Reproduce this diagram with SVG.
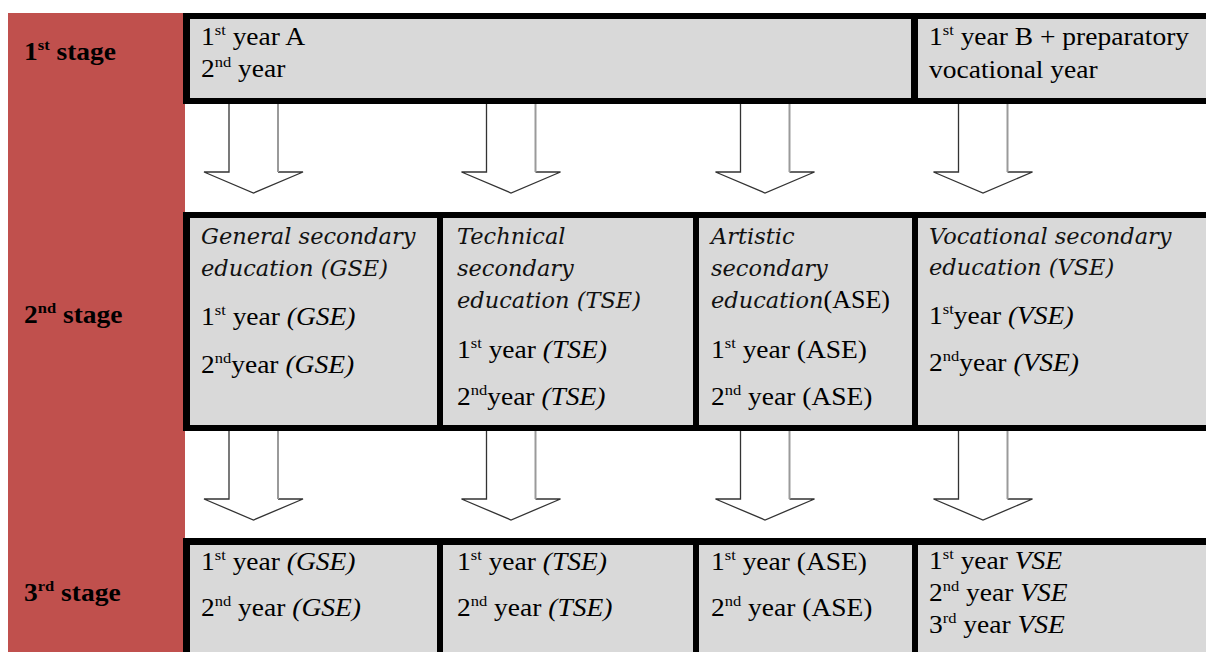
<svg xmlns="http://www.w3.org/2000/svg" width="1206" height="652" viewBox="0 0 1206 652">
<style>
.t{font-family:"Liberation Serif","Times New Roman",serif;font-size:25px;fill:#000}
.b{font-weight:bold}
.i{font-style:italic}
.h{font-family:"DejaVu Serif",serif;font-style:italic;font-size:22.5px;fill:#111}
.cell{fill:#d9d9d9}
.frame{fill:#000}
.ahead{fill:#fff;stroke:none}
.aline{fill:none;stroke:#333;stroke-width:1.3}
.ashade{fill:none;stroke:#9a9a9a;stroke-width:2}
</style>
<rect width="1206" height="652" fill="#fff"/>
<g id="stage-column">
<rect x="8" y="13" width="177" height="639" fill="#c0504d"/>
</g>
<g id="stage1"><text class="t b" transform="translate(24,60) scale(1.1,1)">1<tspan font-size="15" dy="-10">st</tspan><tspan dy="10"> stage</tspan></text></g>
<g id="stage2"><text class="t b" transform="translate(24,323) scale(1.1,1)">2<tspan font-size="15" dy="-10">nd</tspan><tspan dy="10"> stage</tspan></text></g>
<g id="stage3"><text class="t b" transform="translate(24,601) scale(1.1,1)">3<tspan font-size="15" dy="-10">rd</tspan><tspan dy="10"> stage</tspan></text></g>

<g id="frames">
<rect class="frame" x="183" y="13" width="1023" height="91"/>
<rect class="frame" x="183" y="212" width="1023" height="219"/>
<rect class="frame" x="183" y="538" width="1023" height="114"/>
</g>

<g id="row1-A">
<rect class="cell" x="190" y="19" width="721" height="79"/>
<text class="t" transform="translate(201,45) scale(1.1,1)">1<tspan font-size="15" dy="-10">st</tspan><tspan dy="10"> year A</tspan></text>
<text class="t" transform="translate(201,77) scale(1.1,1)">2<tspan font-size="15" dy="-10">nd</tspan><tspan dy="10"> year</tspan></text>
</g>
<g id="row1-B">
<rect class="cell" x="918" y="19" width="288" height="79"/>
<text class="t" transform="translate(929,45) scale(1.1,1)">1<tspan font-size="15" dy="-10">st</tspan><tspan dy="10"> year B + preparatory</tspan></text>
<text class="t" transform="translate(929,78) scale(1.1,1)">vocational year</text>
</g>

<g id="gse2">
<rect class="cell" x="190" y="218" width="247" height="207"/>
<text class="h" x="201" y="244">General secondary</text>
<text class="h" x="201" y="276">education (GSE)</text>
<text class="t" transform="translate(201,325) scale(1.1,1)">1<tspan font-size="15" dy="-10">st</tspan><tspan dy="10"> year </tspan><tspan class="i">(GSE)</tspan></text>
<text class="t" transform="translate(201,373) scale(1.1,1)">2<tspan font-size="15" dy="-10">nd</tspan><tspan dy="10">year </tspan><tspan class="i">(GSE)</tspan></text>
</g>
<g id="tse2">
<rect class="cell" x="443" y="218" width="250" height="207"/>
<text class="h" x="457" y="244">Technical</text>
<text class="h" x="457" y="276">secondary</text>
<text class="h" x="457" y="308">education (TSE)</text>
<text class="t" transform="translate(457,358) scale(1.1,1)">1<tspan font-size="15" dy="-10">st</tspan><tspan dy="10"> year </tspan><tspan class="i">(TSE)</tspan></text>
<text class="t" transform="translate(457,405) scale(1.1,1)">2<tspan font-size="15" dy="-10">nd</tspan><tspan dy="10">year </tspan><tspan class="i">(TSE)</tspan></text>
</g>
<g id="ase2">
<rect class="cell" x="699" y="218" width="213" height="207"/>
<text class="h" x="711" y="244">Artistic</text>
<text class="h" x="711" y="276">secondary</text>
<text class="h" x="711" y="308">education<tspan style="font-family:'Liberation Serif','Times New Roman',serif;font-style:normal;font-size:26px;fill:#000">(ASE)</tspan></text>
<text class="t" transform="translate(711,358) scale(1.1,1)">1<tspan font-size="15" dy="-10">st</tspan><tspan dy="10"> year (ASE)</tspan></text>
<text class="t" transform="translate(711,405) scale(1.1,1)">2<tspan font-size="15" dy="-10">nd</tspan><tspan dy="10"> year (ASE)</tspan></text>
</g>
<g id="vse2">
<rect class="cell" x="918" y="218" width="288" height="207"/>
<text class="h" x="929" y="244">Vocational secondary</text>
<text class="h" x="929" y="275">education (VSE)</text>
<text class="t" transform="translate(929,324) scale(1.1,1)">1<tspan font-size="15" dy="-10">st</tspan><tspan dy="10">year </tspan><tspan class="i">(VSE)</tspan></text>
<text class="t" transform="translate(929,371) scale(1.1,1)">2<tspan font-size="15" dy="-10">nd</tspan><tspan dy="10">year </tspan><tspan class="i">(VSE)</tspan></text>
</g>

<g id="gse3">
<rect class="cell" x="190" y="545" width="247" height="107"/>
<text class="t" transform="translate(201,570) scale(1.1,1)">1<tspan font-size="15" dy="-10">st</tspan><tspan dy="10"> year </tspan><tspan class="i">(GSE)</tspan></text>
<text class="t" transform="translate(201,616) scale(1.1,1)">2<tspan font-size="15" dy="-10">nd</tspan><tspan dy="10"> year </tspan><tspan class="i">(GSE)</tspan></text>
</g>
<g id="tse3">
<rect class="cell" x="443" y="545" width="250" height="107"/>
<text class="t" transform="translate(457,570) scale(1.1,1)">1<tspan font-size="15" dy="-10">st</tspan><tspan dy="10"> year </tspan><tspan class="i">(TSE)</tspan></text>
<text class="t" transform="translate(457,616) scale(1.1,1)">2<tspan font-size="15" dy="-10">nd</tspan><tspan dy="10"> year </tspan><tspan class="i">(TSE)</tspan></text>
</g>
<g id="ase3">
<rect class="cell" x="699" y="545" width="213" height="107"/>
<text class="t" transform="translate(711,570) scale(1.1,1)">1<tspan font-size="15" dy="-10">st</tspan><tspan dy="10"> year (ASE)</tspan></text>
<text class="t" transform="translate(711,616) scale(1.1,1)">2<tspan font-size="15" dy="-10">nd</tspan><tspan dy="10"> year (ASE)</tspan></text>
</g>
<g id="vse3">
<rect class="cell" x="918" y="545" width="288" height="107"/>
<text class="t" transform="translate(929,569) scale(1.1,1)">1<tspan font-size="15" dy="-10">st</tspan><tspan dy="10"> year </tspan><tspan class="i">VSE</tspan></text>
<text class="t" transform="translate(929,601) scale(1.1,1)">2<tspan font-size="15" dy="-10">nd</tspan><tspan dy="10"> year </tspan><tspan class="i">VSE</tspan></text>
<text class="t" transform="translate(929,633) scale(1.1,1)">3<tspan font-size="15" dy="-10">rd</tspan><tspan dy="10"> year </tspan><tspan class="i">VSE</tspan></text>
</g>

<defs>
<g id="arrow">
<path class="ahead" d="M-24.5,0 V68 H-49.5 L0,89 L49.5,68 H24.5 V0 Z"/>
<path class="aline" d="M-24.5,0 V68 H-49.5 L0,89 L49.5,68 H24.5"/>
<path class="ashade" d="M24.5,0 V68"/>
</g>
</defs>
<g id="connectors">
<use href="#arrow" x="253.5" y="104"/>
<use href="#arrow" x="511" y="104"/>
<use href="#arrow" x="765" y="104"/>
<use href="#arrow" x="983" y="104"/>
<use href="#arrow" x="253.5" y="431"/>
<use href="#arrow" x="511" y="431"/>
<use href="#arrow" x="765" y="431"/>
<use href="#arrow" x="983" y="431"/>
</g>
</svg>
